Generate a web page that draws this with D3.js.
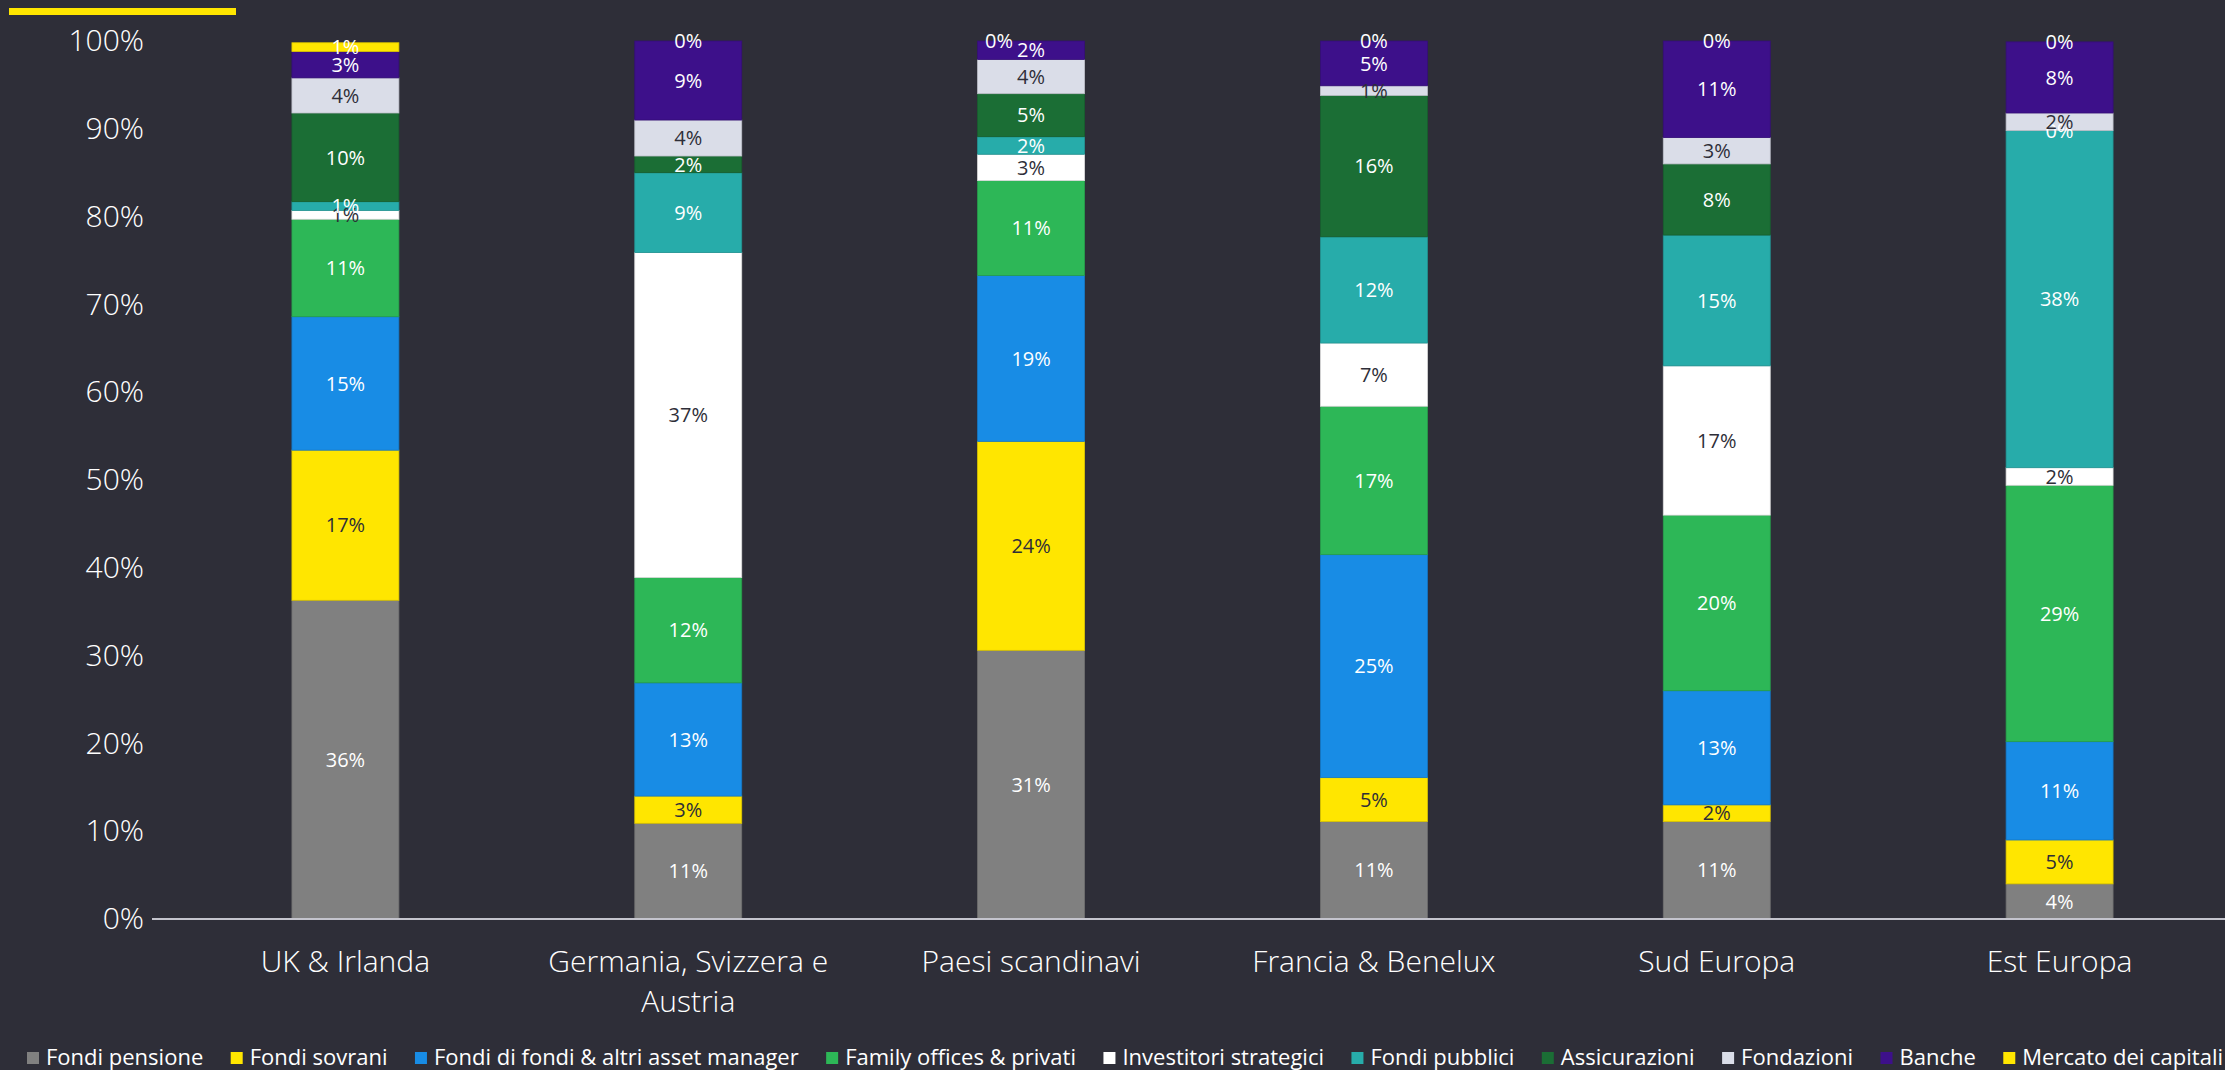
<!DOCTYPE html>
<html>
<head>
<meta charset="utf-8">
<script src="https://cdn.jsdelivr.net/npm/d3@7"></script>
<style>
  body { margin: 0; background: #2E2E38; }
  svg { display: block; }
  text { font-family: "Open Sans", "Noto Sans", sans-serif; }
</style>
</head>
<body>
<svg id="chart"></svg>
<script>
// Categories (regions) and stacked series, values in %
const categories = ["UK & Irlanda", "Germania, Svizzera e Austria", "Paesi scandinavi", "Francia & Benelux", "Sud Europa", "Est Europa"];

const seriesNames = ["Fondi pensione", "Fondi sovrani", "Fondi di fondi & altri asset manager", "Family offices & privati",
    "Investitori strategici", "Fondi pubblici", "Assicurazioni", "Fondazioni", "Banche", "Mercato dei capitali"];

const fondiPensione = [36.3, 10.9, 30.6, 11.1, 11.1, 4.0];
const fondiSovrani = [17.1, 3.1, 23.8, 5.0, 1.9, 5.0];
const fondiDiFondi = [15.2, 12.9, 18.9, 25.4, 13.0, 11.2];
const familyOffices = [11.1, 12.0, 10.8, 16.9, 20.0, 29.2];
const investitoriStrategici = [1.0, 37.0, 3.0, 7.2, 17.0, 2.0];
const fondiPubblici = [1.0, 9.1, 2.0, 12.1, 14.9, 38.4];
const assicurazioni = [10.1, 1.9, 4.9, 16.1, 8.1, 0];
const fondazioni = [4.0, 4.1, 3.9, 1.1, 3.0, 2.0];
const banche = [3.0, 9.0, 2.1, 5.1, 11.0, 8.1];
const mercatoCapitali = [1.0, 0, 0, 0, 0, 0];

const yTicks = [0, 10, 20, 30, 40, 50, 60, 70, 80, 90, 100];

const seriesColors = ["#808080", "#FFE600", "#188CE5", "#2DB757", "#FFFFFF", "#27ACAA", "#1B6E35", "#DADDE8", "#3D108A", "#FFE600"];
// series whose labels are dark text
const darkLabel = new Set(["Fondi sovrani", "Investitori strategici", "Fondazioni"]);

const width = 2225, height = 1070;
const bg = "#2E2E38";

const svg = d3.select("#chart")
    .attr("width", width)
    .attr("height", height);

svg.append("rect").attr("width", width).attr("height", height).attr("fill", bg);

// yellow accent bar top-left
svg.append("rect")
    .attr("x", 9).attr("y", 8)
    .attr("width", 227).attr("height", 7)
    .attr("fill", "#FFE600");

// build table for the stack
const allSeries = [fondiPensione, fondiSovrani, fondiDiFondi, familyOffices, investitoriStrategici,
    fondiPubblici, assicurazioni, fondazioni, banche, mercatoCapitali];
const table = categories.map((c, i) => {
    const row = { category: c };
    seriesNames.forEach((s, j) => row[s] = allSeries[j][i]);
    return row;
});

const stacked = d3.stack().keys(seriesNames)(table);

const x = d3.scaleBand()
    .domain(categories)
    .range([174, 2231])
    .paddingInner(0.688)
    .paddingOuter(0.344);

const y = d3.scaleLinear()
    .domain([0, 100])
    .range([919, 41]);

const color = d3.scaleOrdinal().domain(seriesNames).range(seriesColors);

// Y axis
const yAxis = svg.append("g")
    .attr("transform", "translate(152,0)")
    .call(d3.axisLeft(y).tickValues(yTicks).tickSize(0).tickPadding(8).tickFormat(d => d + "%"));
yAxis.select(".domain").remove();
yAxis.selectAll("text")
    .attr("fill", "#FFFFFF")
    .style("font-size", "30px")
    .style("font-weight", 300);

// bars
const layers = svg.append("g").selectAll("g")
    .data(stacked)
    .enter().append("g")
    .attr("fill", d => color(d.key));

layers.selectAll("rect")
    .data(d => d.map(v => ({ key: d.key, v })))
    .enter().append("rect")
    .attr("x", d => x(d.v.data.category))
    .attr("y", d => y(d.v[1]))
    .attr("width", x.bandwidth())
    .attr("height", d => y(d.v[0]) - y(d.v[1]))
    .attr("stroke", d => d3.color(color(d.key)).darker(0.4))
    .attr("stroke-width", 0.8);

// x axis line
svg.append("line")
    .attr("x1", 152).attr("x2", width)
    .attr("y1", y(0)).attr("y2", y(0))
    .attr("stroke", "#C4C4CD")
    .attr("stroke-width", 2);

// segment labels
stacked.forEach((layer, li) => {
    layer.forEach((v, ci) => {
        const val = v[1] - v[0];
        let cx = x(v.data.category) + x.bandwidth() / 2;
        const cy = (y(v[0]) + y(v[1])) / 2;
        // zero label nudged left when the segment beneath it is very thin
        if (val === 0 && li > 0) {
            const below = stacked[li - 1][ci];
            if (below[1] - below[0] < 2.5 && below[1] - below[0] > 0) cx -= x.bandwidth() * 0.3;
        }
        svg.append("text")
            .attr("x", cx)
            .attr("y", cy)
            .attr("dy", "0.36em")
            .attr("text-anchor", "middle")
            .attr("fill", darkLabel.has(layer.key) ? "#2E2E38" : "#FFFFFF")
            .style("font-size", "20px")
            .text(Math.round(val) + "%");
    });
});

// category labels with wrapping
const catG = svg.append("g");
categories.forEach(c => {
    const t = catG.append("text")
        .attr("x", x(c) + x.bandwidth() / 2)
        .attr("y", 972)
        .attr("text-anchor", "middle")
        .attr("fill", "#FFFFFF")
        .style("font-size", "30px")
        .style("font-weight", 300);
    const words = c.split(" ");
    let line = [];
    let ts = t.append("tspan").attr("x", x(c) + x.bandwidth() / 2);
    words.forEach(w => {
        line.push(w);
        ts.text(line.join(" "));
        if (ts.node().getComputedTextLength() > 320 && line.length > 1) {
            line.pop();
            ts.text(line.join(" "));
            line = [w];
            ts = t.append("tspan")
                .attr("x", x(c) + x.bandwidth() / 2)
                .attr("dy", 40)
                .text(w);
        }
    });
});

// legend
const legend = svg.append("g");
let fontSize = 22;
const items = seriesNames.map((s, i) => {
    const g = legend.append("g");
    g.append("rect")
        .attr("width", 12).attr("height", 12)
        .attr("y", -13)
        .attr("fill", seriesColors[i]);
    const t = g.append("text")
        .attr("x", 19)
        .attr("fill", "#FFFFFF")
        .style("font-size", fontSize + "px")
        .text(s);
    return { g, t };
});
const legendStart = 27, legendEnd = 2223;
let widths = items.map(d => 19 + d.t.node().getComputedTextLength());
let total = d3.sum(widths);
let gap = (legendEnd - legendStart - total) / (items.length - 1);
if (gap < 10) {
    const k = (legendEnd - legendStart - 10 * (items.length - 1) - 19 * items.length) / (total - 19 * items.length);
    fontSize = fontSize * k;
    items.forEach(d => d.t.style("font-size", fontSize + "px"));
    widths = items.map(d => 19 + d.t.node().getComputedTextLength());
    total = d3.sum(widths);
    gap = (legendEnd - legendStart - total) / (items.length - 1);
}
let lx = legendStart;
items.forEach((d, i) => {
    d.g.attr("transform", `translate(${lx},1065)`);
    lx += widths[i] + gap;
});
</script>
</body>
</html>
